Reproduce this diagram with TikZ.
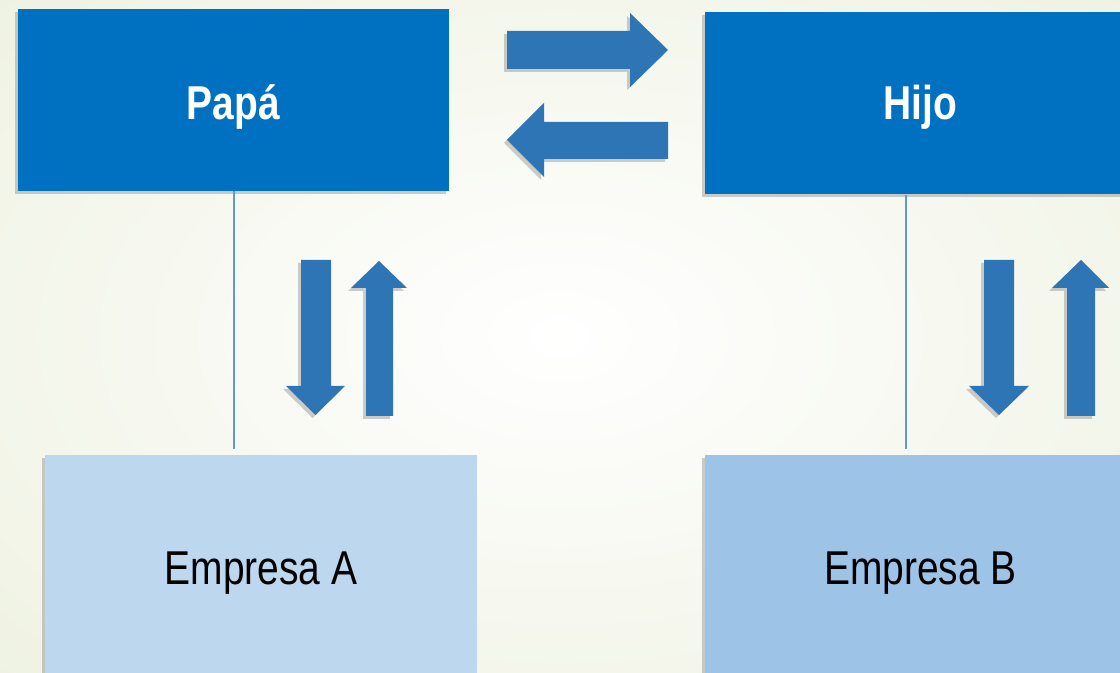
\documentclass[tikz,border=0pt]{standalone}
\usepackage{fontspec}
\setmainfont{Liberation Sans}[FakeStretch=0.82]
\usetikzlibrary{shadows}
\definecolor{dark}{HTML}{0070C0}
\definecolor{lightA}{HTML}{BDD7EE}
\definecolor{lightB}{HTML}{9DC3E6}
\definecolor{arr}{HTML}{2E75B6}
\definecolor{ln}{HTML}{5B9BD5}
\definecolor{bgout}{HTML}{EDF1DF}
\newcommand{\lowertext}[2]{\raisebox{-#1}[\height][\depth]{#2}}
\begin{document}
\begin{tikzpicture}[x=0.5pt,y=-0.5pt,
  boxshadow/.style={drop shadow={shadow xshift=-1.5pt,shadow yshift=-1.5pt,opacity=0.35,fill=black!55}},
  topbox/.style={fill=dark, text=white, font=\fontsize{23.75}{28}\selectfont\bfseries,
    minimum width=215.5pt, minimum height=91pt, inner sep=0pt, boxshadow},
  botbox/.style={text=black, font=\fontsize{23.75}{28}\selectfont,
    minimum width=216pt, minimum height=113.5pt, inner sep=0pt, boxshadow},
  blockarrow/.style={fill=arr, boxshadow},
  link/.style={draw=ln, line width=0.75pt}]
\useasboundingbox (0,0) rectangle (1120,673);
\clip (0,0) rectangle (1120,673);
\shade[inner color=white, outer color=bgout] (-300,-200) rectangle (1420,873);
% boxes
\node[topbox] (papa) at (233.5,100) {\lowertext{3.5pt}{Papá}};
\node[topbox] (hijo) at (920.5,103.5) {\lowertext{2pt}{Hijo}};
\node[botbox, fill=lightA] (empA) at (261,568.5) {\lowertext{2.5pt}{Empresa A}};
\node[botbox, fill=lightB] (empB) at (920.5,568.5) {\lowertext{2.5pt}{Empresa B}};
% connectors
\coordinate (pEnd) at (234,449);
\coordinate (hEnd) at (906,449);
\draw[link] (papa.south -| pEnd) -- (pEnd);
\draw[link] (hijo.south -| hEnd) -- (hEnd);
% block arrows
\fill[blockarrow] (507,31) -- (630,31) -- (630,13) -- (668,50) -- (630,87) -- (630,69) -- (507,69) -- cycle;
\fill[blockarrow] (668,122) -- (544,122) -- (544,103) -- (507,140) -- (544,177) -- (544,159) -- (668,159) -- cycle;
\fill[blockarrow] (301,260) -- (331,260) -- (331,386) -- (345,386) -- (315.5,415) -- (286,386) -- (301,386) -- cycle;
\fill[blockarrow] (366,416) -- (393,416) -- (393,288) -- (407,288) -- (379,261) -- (351,288) -- (366,288) -- cycle;
\fill[blockarrow] (984,260) -- (1014,260) -- (1014,386) -- (1029,386) -- (999,415) -- (969,386) -- (984,386) -- cycle;
\fill[blockarrow] (1067,416) -- (1095,416) -- (1095,288) -- (1109,288) -- (1081,260) -- (1052,288) -- (1067,288) -- cycle;
\end{tikzpicture}
\end{document}
